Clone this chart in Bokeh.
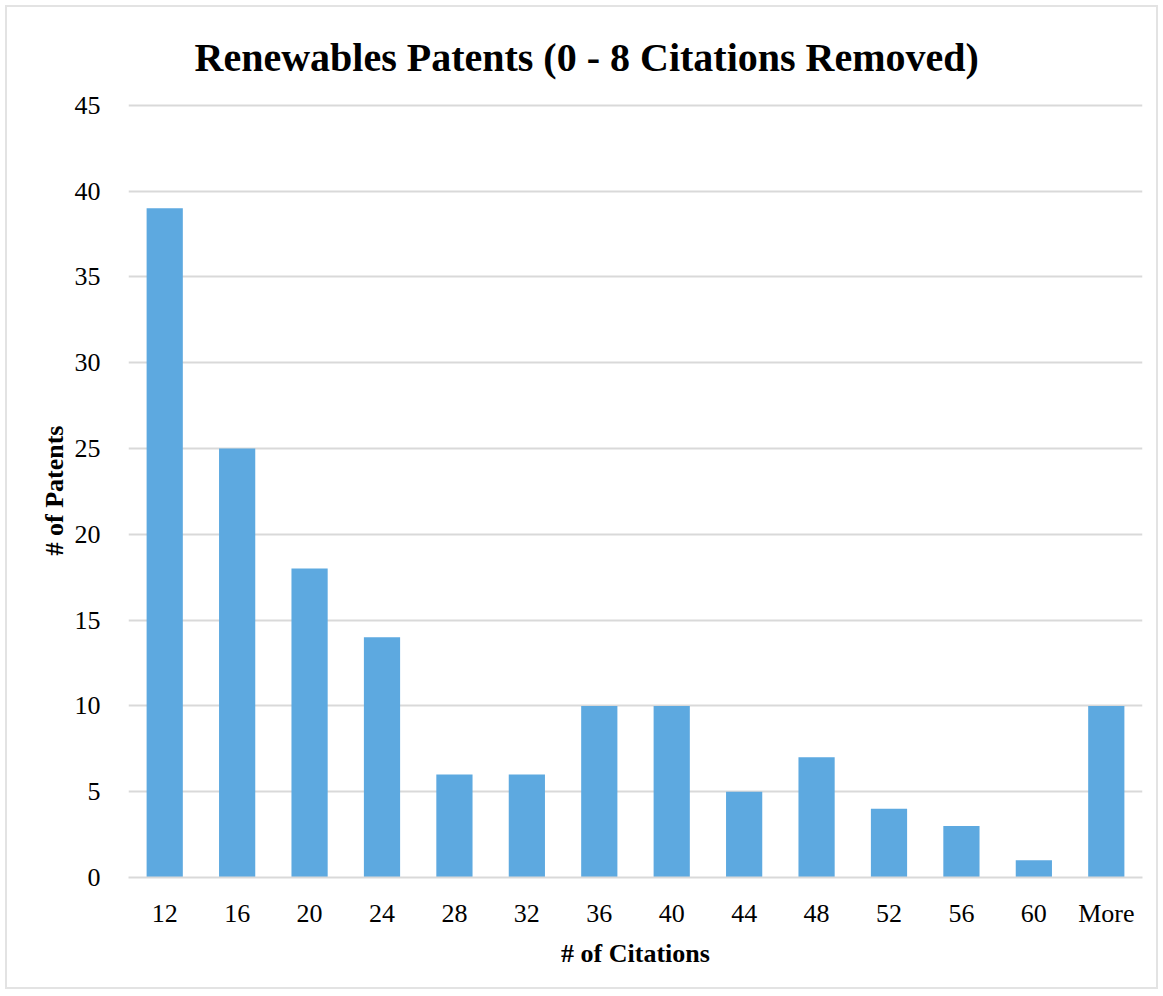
from bokeh.plotting import figure
from bokeh.embed import file_html
from bokeh.resources import INLINE
from bokeh.models import SingleIntervalTicker, ColumnDataSource

categories = ["12", "16", "20", "24", "28", "32", "36", "40", "44", "48", "52", "56", "60", "More"]
patents = [39, 25, 18, 14, 6, 6, 10, 10, 5, 7, 4, 3, 1, 10]

source = ColumnDataSource(data=dict(cat=categories, val=patents))

FONT = "Liberation Serif"

p = figure(x_range=categories, y_range=(0, 45.1), width=1153, height=984,
           output_backend="svg", toolbar_location=None,
           title="Renewables Patents (0 - 8 Citations Removed)",
           min_border_left=121, min_border_right=18, min_border_top=96, min_border_bottom=114)

p.vbar(x="cat", top="val", width=0.5, source=source, color="#5DA9E0", line_color=None)

p.title.text_font = FONT
p.title.text_font_size = "40px"
p.title.text_font_style = "bold"
p.title.text_color = "#000000"
p.title.align = "left"
p.title.offset = 66
p.title.standoff = 48

p.outline_line_color = None
p.background_fill_color = "white"
p.border_fill_color = "white"
p.styles = {"border": "2px solid #e3e3e3", "margin-left": "5px", "margin-top": "5px"}

p.ygrid.grid_line_color = "#d9d9d9"
p.ygrid.grid_line_width = 2
p.xgrid.grid_line_color = None

p.yaxis.ticker = SingleIntervalTicker(interval=5)
p.yaxis.axis_line_color = None
p.yaxis.major_tick_line_color = None
p.yaxis.minor_tick_line_color = None
p.yaxis.major_label_standoff = 22
p.yaxis.axis_label = "# of Patents"
p.yaxis.axis_label_standoff = 3

p.xaxis.axis_line_color = "#d9d9d9"
p.xaxis.axis_line_width = 2
p.xaxis.major_tick_line_color = None
p.xaxis.minor_tick_line_color = None
p.xaxis.major_label_standoff = 15
p.xaxis.axis_label = "# of Citations"
p.xaxis.axis_label_standoff = 8

for ax in (p.xaxis, p.yaxis):
    ax.major_label_text_font = FONT
    ax.major_label_text_font_size = "26px"
    ax.major_label_text_color = "#000000"
    ax.axis_label_text_font = FONT
    ax.axis_label_text_font_size = "26px"
    ax.axis_label_text_font_style = "bold"
    ax.axis_label_text_color = "#000000"

p.x_range.range_padding = 0

open("out.html", "w").write(file_html(p, INLINE))
